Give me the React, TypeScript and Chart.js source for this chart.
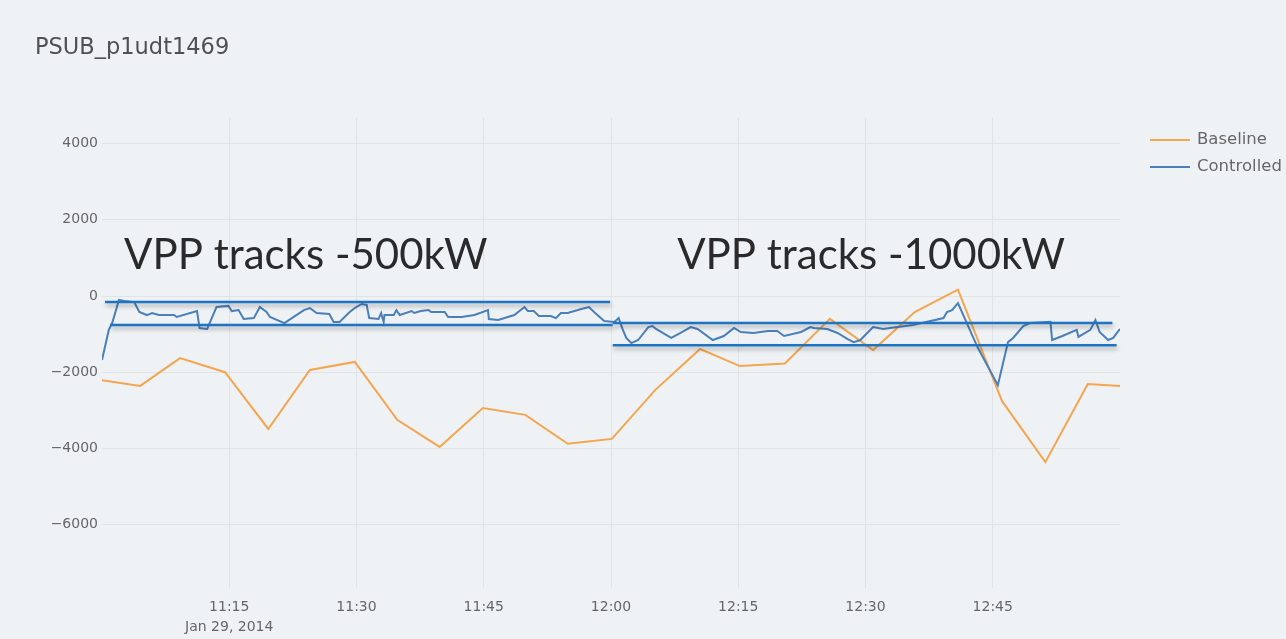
import React, { useEffect, useRef } from "react";
import { Chart, registerables } from "chart.js";

Chart.register(...registerables);

const chartTitle = "PSUB_p1udt1469";
const seriesNames = ["Baseline", "Controlled"];
const seriesColors = ["#f4a54f", "#4b7fb8"];

const baselineMinutes = [0, 4.5, 9.2, 14.5, 19.6, 24.5, 29.8, 34.8, 39.8, 44.9, 49.9, 54.9, 60.1, 65.2, 70.5, 75.2, 80.5, 85.8, 90.9, 95.8, 100.9, 106.1, 111.2, 116.2, 120];
const baselineValues = [-2210, -2360, -1630, -2000, -3490, -1940, -1730, -3250, -3960, -2940, -3120, -3880, -3750, -2470, -1390, -1840, -1770, -600, -1420, -420, 170, -2760, -4360, -2310, -2360];

const controlledMinutes = [0, 0.8, 1.2, 2.0, 2.6, 3.8, 4.4, 5.3, 5.9, 6.7, 8.5, 8.8, 11.2, 11.5, 12.4, 13.2, 13.5, 14.9, 15.3, 16.1, 16.7, 17.9, 18.6, 19.4, 19.8, 21.5, 22.6, 23.8, 24.5, 25.3, 26.8, 27.3, 28.0, 29.2, 29.8, 30.6, 31.2, 31.5, 32.6, 32.9, 33.2, 33.3, 34.4, 34.7, 35.1, 36.5, 36.8, 37.6, 38.5, 38.8, 40.4, 40.8, 42.4, 43.9, 45.5, 45.6, 46.7, 48.6, 49.8, 50.2, 50.9, 51.5, 52.9, 53.5, 54.1, 54.9, 56.5, 57.4, 58.0, 59.2, 60.4, 60.9, 61.4, 61.8, 62.4, 63.2, 64.4, 64.9, 65.3, 67.1, 68.2, 69.4, 70.2, 72.0, 73.3, 74.5, 75.3, 76.8, 78.5, 79.6, 80.4, 82.4, 83.5, 83.9, 85.5, 86.7, 87.9, 88.6, 89.4, 90.2, 90.9, 92.1, 92.9, 95.6, 99.2, 99.6, 100.2, 100.9, 103.2, 105.6, 106.8, 107.4, 108.6, 109.4, 111.8, 112.0, 113.2, 114.9, 115.1, 116.5, 117.1, 117.6, 118.6, 119.2, 120];
const controlledValues = [-1680, -890, -710, -105, -130, -160, -420, -500, -445, -500, -500, -550, -395, -840, -865, -445, -290, -260, -395, -370, -605, -580, -290, -420, -550, -710, -550, -370, -315, -445, -470, -680, -680, -420, -315, -210, -235, -580, -605, -445, -680, -500, -500, -370, -500, -395, -445, -395, -370, -420, -420, -550, -550, -500, -370, -605, -630, -500, -290, -395, -395, -525, -525, -580, -445, -445, -340, -290, -420, -655, -680, -580, -890, -1100, -1235, -1155, -815, -790, -865, -1100, -970, -815, -865, -1155, -1050, -840, -945, -970, -920, -920, -1050, -945, -815, -840, -865, -970, -1130, -1210, -1155, -970, -815, -865, -840, -760, -580, -420, -370, -185, -1340, -2340, -1210, -1100, -790, -710, -680, -1155, -1050, -890, -1075, -890, -630, -945, -1155, -1100, -865];

const xTickMinutes = [15, 30, 45, 60, 75, 90, 105];
const xTickLabels: (string | string[])[] = [["11:15", "Jan 29, 2014"], "11:30", "11:45", "12:00", "12:15", "12:30", "12:45"];
const yTickValues = [4000, 2000, 0, -2000, -4000, -6000];

const bandStartMinutes = [0.35, 0.95, 60.2, 60.2];
const bandEndMinutes = [59.9, 60.2, 119.1, 119.6];
const bandValues = [-160, -760, -710, -1290];

const noteTexts = ["VPP tracks -500kW", "VPP tracks -1000kW"];
const noteMinutes = [2.6, 67.8];
const noteValues = [700, 700];

const BG = "#eff2f5";
const TICK_FONT = "'DejaVu Sans', sans-serif";

const overlayPlugin = {
  id: "overlay",
  beforeDraw(chart: any) {
    const ctx = chart.ctx;
    ctx.save();
    ctx.fillStyle = BG;
    ctx.fillRect(0, 0, chart.width, chart.height);
    ctx.restore();
  },
  afterDatasetsDraw(chart: any) {
    const ctx = chart.ctx;
    const xs = chart.scales.x;
    const ys = chart.scales.y;
    ctx.save();
    ctx.strokeStyle = "#1f74c1";
    ctx.lineWidth = 2.5;
    ctx.shadowColor = "rgba(0,0,0,0.3)";
    ctx.shadowBlur = 4;
    ctx.shadowOffsetX = 1;
    ctx.shadowOffsetY = 3;
    for (let i = 0; i < bandValues.length; i++) {
      const y = ys.getPixelForValue(bandValues[i]);
      ctx.beginPath();
      ctx.moveTo(xs.getPixelForValue(bandStartMinutes[i]), y);
      ctx.lineTo(xs.getPixelForValue(bandEndMinutes[i]), y);
      ctx.stroke();
    }
    ctx.restore();

    ctx.save();
    ctx.fillStyle = "#2a2a2a";
    ctx.font = "42px Lato, 'Open Sans', sans-serif";
    ctx.textBaseline = "alphabetic";
    ctx.textAlign = "left";
    for (let i = 0; i < noteTexts.length; i++) {
      ctx.fillText(noteTexts[i], xs.getPixelForValue(noteMinutes[i]), ys.getPixelForValue(noteValues[i]));
    }
    ctx.restore();
  },
  afterDraw(chart: any) {
    const ctx = chart.ctx;
    const area = chart.chartArea;
    ctx.save();
    ctx.font = "16.5px " + TICK_FONT;
    ctx.textBaseline = "middle";
    chart.data.datasets.forEach((ds: any, i: number) => {
      const y = area.top + 22 + i * 27;
      const x0 = area.right + 30;
      ctx.strokeStyle = ds.borderColor;
      ctx.lineWidth = 2;
      ctx.beginPath();
      ctx.moveTo(x0, y);
      ctx.lineTo(x0 + 40, y);
      ctx.stroke();
      ctx.fillStyle = "#666";
      ctx.fillText(ds.label, x0 + 47, y);
    });
    ctx.restore();
  },
};

export default function App() {
  const ref = useRef<HTMLCanvasElement | null>(null);
  useEffect(() => {
    document.body.style.margin = "0";
    document.body.style.background = BG;
    const canvas = ref.current;
    if (!canvas) return;
    const chart = new Chart(canvas, {
      type: "line",
      data: {
        datasets: [
          {
            label: seriesNames[0],
            data: baselineMinutes.map((m, i) => ({ x: m, y: baselineValues[i] })),
            borderColor: seriesColors[0],
            backgroundColor: seriesColors[0],
            borderWidth: 2,
            pointRadius: 0,
            tension: 0,
            order: 1,
          },
          {
            label: seriesNames[1],
            data: controlledMinutes.map((m, i) => ({ x: m, y: controlledValues[i] })),
            borderColor: seriesColors[1],
            backgroundColor: seriesColors[1],
            borderWidth: 2,
            pointRadius: 0,
            tension: 0,
            order: 0,
          },
        ],
      },
      options: {
        animation: false,
        responsive: false,
        devicePixelRatio: 1,
        layout: { padding: { left: 35, right: 166, top: 0, bottom: 0 } },
        plugins: {
          legend: { display: false },
          tooltip: { enabled: false },
          title: {
            display: true,
            text: chartTitle,
            align: "start",
            color: "#505050",
            font: { family: TICK_FONT, size: 22.5, weight: "normal", lineHeight: 1.2 },
            padding: { top: 35, bottom: 56 },
          },
        },
        scales: {
          x: {
            type: "linear",
            min: 0,
            max: 120,
            afterBuildTicks: (s: any) => {
              s.ticks = xTickMinutes.map((v) => ({ value: v }));
            },
            afterFit: (s: any) => {
              s.height = 51;
            },
            ticks: {
              autoSkip: false,
              maxRotation: 0,
              padding: 10,
              color: "#666",
              font: { family: TICK_FONT, size: 14, lineHeight: 1.4 },
              callback: (v: any) => {
                const idx = xTickMinutes.indexOf(Number(v));
                return idx >= 0 ? xTickLabels[idx] : "";
              },
            },
            grid: { color: "#e0e4e9", lineWidth: 1, drawTicks: false },
            border: { display: false },
          },
          y: {
            type: "linear",
            min: -7664,
            max: 4672,
            afterBuildTicks: (s: any) => {
              s.ticks = yTickValues.map((v) => ({ value: v }));
            },
            afterFit: (s: any) => {
              s.width = 67;
            },
            ticks: {
              padding: 4,
              color: "#666",
              font: { family: TICK_FONT, size: 14 },
              callback: (v: any) => {
                const n = Number(v);
                return n < 0 ? "\u2212" + Math.abs(n) : String(n);
              },
            },
            grid: { color: "#e0e4e9", lineWidth: 1, drawTicks: false },
            border: { display: false },
          },
        },
      },
      plugins: [overlayPlugin],
    });
    return () => chart.destroy();
  }, []);
  return <canvas ref={ref} width={1286} height={639} style={{ display: "block" }} />;
}
